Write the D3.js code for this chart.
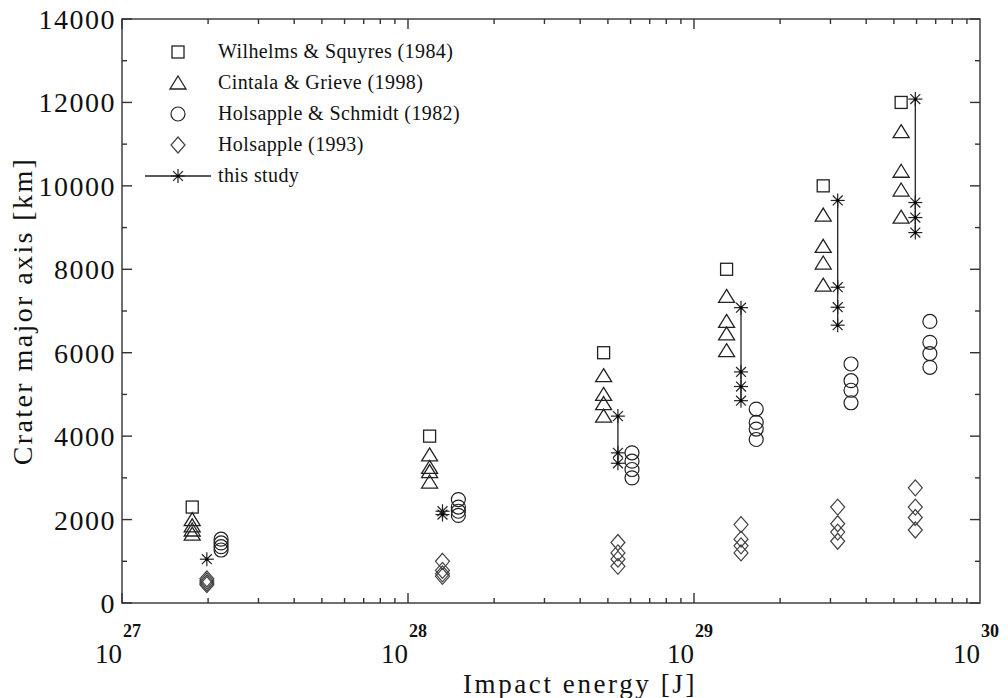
<!DOCTYPE html>
<html lang="en">
<head>
<meta charset="utf-8">
<title>Crater major axis vs impact energy</title>
<script src="https://d3js.org/d3.v7.min.js"></script>
<style>
  body { margin: 0; background: #fff; }
  text { font-family: "Liberation Serif", "Times New Roman", serif; fill: #111; }
  .frame line { stroke: #333; stroke-width: 1.4; }
</style>
</head>
<body>
<div id="my_dataviz"></div>
<script>
// energies [J] and crater major axis [km], one entry per impact case
var squareE = [1.76e27, 1.19e28, 4.83e28, 1.30e29, 2.83e29, 5.30e29];
var squareD = [2300, 4000, 6000, 8000, 10000, 12000];

var triangleE = [1.76e27, 1.19e28, 4.83e28, 1.30e29, 2.83e29, 5.30e29];
var triangleD = [[2000, 1850, 1750, 1650], [3550, 3250, 3150, 2900], [5450, 5000, 4780, 4480],
                 [7350, 6750, 6450, 6050], [9300, 8550, 8150, 7620], [11300, 10350, 9900, 9250]];

var circleE = [2.22e27, 1.50e28, 6.07e28, 1.65e29, 3.54e29, 6.68e29];
var circleD = [[1530, 1440, 1350, 1270], [2480, 2300, 2200, 2100], [3600, 3400, 3200, 3000],
               [4650, 4330, 4170, 3920], [5730, 5330, 5100, 4800], [6750, 6250, 5980, 5650]];

var diamondE = [1.98e27, 1.32e28, 5.42e28, 1.46e29, 3.18e29, 5.94e29];
var diamondD = [[580, 530, 480, 440], [1000, 780, 700, 640], [1450, 1200, 1050, 880],
                [1880, 1530, 1370, 1200], [2300, 1900, 1700, 1480], [2760, 2300, 2050, 1750]];

var studyE = [1.98e27, 1.32e28, 5.42e28, 1.46e29, 3.18e29, 5.94e29];
var studyD = [[1050], [2200, 2120], [4480, 3600, 3350], [7080, 5540, 5190, 4850],
              [9650, 7570, 7090, 6660], [12080, 9600, 9240, 8880]];

var legendLabels = ["Wilhelms & Squyres (1984)", "Cintala & Grieve (1998)",
                    "Holsapple & Schmidt (1982)", "Holsapple (1993)", "this study"];
var legendSymbols = ["square", "triangle", "circle", "diamond", "star"];

var xDecades = [27, 28, 29, 30];
var yTicks = d3.range(0, 14001, 1000);

var W = 1008, H = 698;
var pLeft = 122, pRight = 980, pTop = 19, pBottom = 603;
var ink = "#222";

var svg = d3.select("#my_dataviz").append("svg")
    .attr("width", W).attr("height", H);

var x = d3.scaleLog().domain([1e27, 1e30]).range([pLeft, pRight]);
var y = d3.scaleLinear().domain([0, 14000]).range([pBottom, pTop]);

// frame + inward ticks
var frame = svg.append("g").attr("class", "frame");
frame.append("rect").attr("x", pLeft).attr("y", pTop)
    .attr("width", pRight - pLeft).attr("height", pBottom - pTop)
    .attr("fill", "none").attr("stroke", "#333").attr("stroke-width", 1.4);

var xMinor = [];
xDecades.slice(0, 3).forEach(function(p) {
  for (var k = 1; k < 10; k++) xMinor.push({v: k * Math.pow(10, p), major: k == 1});
});
xMinor.forEach(function(t) {
  var len = t.major ? 10 : 5;
  frame.append("line").attr("x1", x(t.v)).attr("x2", x(t.v)).attr("y1", pBottom).attr("y2", pBottom - len);
  frame.append("line").attr("x1", x(t.v)).attr("x2", x(t.v)).attr("y1", pTop).attr("y2", pTop + len);
});
yTicks.forEach(function(v) {
  var len = v % 2000 == 0 ? 10 : 5;
  frame.append("line").attr("x1", pLeft).attr("x2", pLeft + len).attr("y1", y(v)).attr("y2", y(v));
  frame.append("line").attr("x1", pRight).attr("x2", pRight - len).attr("y1", y(v)).attr("y2", y(v));
});

// tick labels
yTicks.filter(function(v) { return v % 2000 == 0; }).forEach(function(v) {
  svg.append("text").attr("x", pLeft - 6).attr("y", y(v) + 10)
    .attr("text-anchor", "end").style("font-size", "28px").style("letter-spacing", "1.5px").text(v);
});
xDecades.forEach(function(p) {
  svg.append("text").attr("x", x(Math.pow(10, p))).attr("y", 663)
    .attr("text-anchor", "end").style("font-size", "27px").text("10");
  svg.append("text").attr("x", x(Math.pow(10, p)) + 1).attr("y", 637)
    .attr("text-anchor", "start").style("font-size", "18px").style("font-weight", "bold").text(p);
});

svg.append("text").attr("x", 580).attr("y", 693).attr("text-anchor", "middle")
  .style("font-size", "27px").style("letter-spacing", "2.6px").text("Impact energy [J]");
svg.append("text").attr("transform", "translate(32," + ((pTop + pBottom) / 2) + ") rotate(-90)")
  .attr("text-anchor", "middle").style("font-size", "28px").style("letter-spacing", "2.4px")
  .text("Crater major axis [km]");

function drawSymbol(g, kind, cx, cy) {
  if (kind == "square") {
    g.append("rect").attr("x", cx - 6).attr("y", cy - 6).attr("width", 12).attr("height", 12)
      .attr("fill", "none").attr("stroke", ink).attr("stroke-width", 1.3);
  } else if (kind == "triangle") {
    g.append("path").attr("d", "M" + cx + "," + (cy - 7) + "L" + (cx + 8) + "," + (cy + 6) + "L" + (cx - 8) + "," + (cy + 6) + "Z")
      .attr("fill", "none").attr("stroke", ink).attr("stroke-width", 1.3);
  } else if (kind == "circle") {
    g.append("circle").attr("cx", cx).attr("cy", cy).attr("r", 7)
      .attr("fill", "none").attr("stroke", ink).attr("stroke-width", 1.2);
  } else if (kind == "diamond") {
    g.append("path").attr("d", "M" + cx + "," + (cy - 8) + "L" + (cx + 7) + "," + cy + "L" + cx + "," + (cy + 8) + "L" + (cx - 7) + "," + cy + "Z")
      .attr("fill", "none").attr("stroke", "#444").attr("stroke-width", 1.2);
  } else {
    [0, 45, 90, 135].forEach(function(a) {
      var r = a * Math.PI / 180, dx = 7 * Math.cos(r), dy = 7 * Math.sin(r);
      g.append("line").attr("x1", cx - dx).attr("y1", cy - dy).attr("x2", cx + dx).attr("y2", cy + dy)
        .attr("stroke", ink).attr("stroke-width", 1.2);
    });
    g.append("circle").attr("cx", cx).attr("cy", cy).attr("r", 1.6).attr("fill", "#000");
  }
}

var marks = svg.append("g");

// this study: vertical range line
studyE.forEach(function(e, i) {
  var vals = studyD[i];
  if (vals.length > 1) {
    marks.append("line").attr("x1", x(e)).attr("x2", x(e))
      .attr("y1", y(d3.max(vals))).attr("y2", y(d3.min(vals)))
      .attr("stroke", ink).attr("stroke-width", 1.3);
  }
});

squareE.forEach(function(e, i) { drawSymbol(marks, "square", x(e), y(squareD[i])); });
triangleE.forEach(function(e, i) {
  triangleD[i].forEach(function(v) { drawSymbol(marks, "triangle", x(e), y(v)); });
});
circleE.forEach(function(e, i) {
  circleD[i].forEach(function(v) { drawSymbol(marks, "circle", x(e), y(v)); });
});
diamondE.forEach(function(e, i) {
  diamondD[i].forEach(function(v) { drawSymbol(marks, "diamond", x(e), y(v)); });
});
studyE.forEach(function(e, i) {
  studyD[i].forEach(function(v) { drawSymbol(marks, "star", x(e), y(v)); });
});

// legend
var legend = svg.append("g");
legendLabels.forEach(function(lbl, i) {
  var ly = 52 + i * 31;
  if (legendSymbols[i] == "star") {
    legend.append("line").attr("x1", 145).attr("x2", 211).attr("y1", ly).attr("y2", ly)
      .attr("stroke", ink).attr("stroke-width", 1.3);
  }
  drawSymbol(legend, legendSymbols[i], 178, ly);
  legend.append("text").attr("x", 218).attr("y", ly + 6)
    .style("font-size", "20px").style("letter-spacing", "0.4px").text(lbl);
});
</script>
</body>
</html>
